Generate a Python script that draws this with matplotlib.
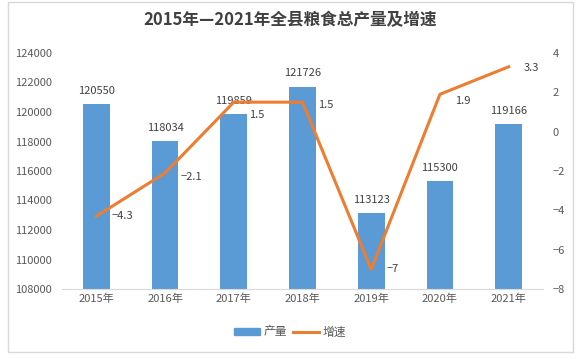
import matplotlib
matplotlib.use("Agg")
import matplotlib.pyplot as plt
from matplotlib.patches import Rectangle, Patch
from matplotlib.lines import Line2D

plt.rcParams['font.family'] = ['Noto Sans CJK SC', 'DejaVu Sans']

# 数据
years = ['2015年', '2016年', '2017年', '2018年', '2019年', '2020年', '2021年']
output = [120550, 118034, 119859, 121726, 113123, 115300, 119166]
growth = [-4.3, -2.1, 1.5, 1.5, -7, 1.9, 3.3]
growth_labels = ['−4.3', '−2.1', '1.5', '1.5', '−7', '1.9', '3.3']

# 增速标签相对数据点的偏移（单位：点）
label_dy = [0, -3, -9, -2, 0, -5, -1]

bar_color = '#5B9BD5'
line_color = '#ED7D31'
text_color = '#595959'

fig = plt.figure(figsize=(5.81, 3.61), dpi=100)
ax = fig.add_axes([62 / 581, 1 - 289 / 361, 481 / 581, 236 / 361])

x = list(range(len(years)))
ax.bar(x, output, width=0.39, color=bar_color, zorder=2)
ax.set_ylim(108000, 124000)
ax.set_yticks(range(108000, 124001, 2000))
ax.set_xlim(-0.5, len(years) - 0.5)
ax.set_xticks(x)
ax.set_xticklabels(years)
for i, v in enumerate(output):
    ax.annotate(str(v), (i, v), xytext=(0, 6), textcoords='offset points',
                ha='center', va='bottom', fontsize=8, color='#404040')

for s in ['top', 'left', 'right']:
    ax.spines[s].set_visible(False)
ax.spines['bottom'].set_color('#D9D9D9')
ax.tick_params(axis='both', length=0, labelsize=8, colors=text_color)
ax.tick_params(axis='y', pad=7)

ax2 = ax.twinx()
ax2.plot(x, growth, color=line_color, linewidth=2.2, zorder=3)
ax2.set_ylim(-8, 4)
ax2.set_yticks(range(-8, 5, 2))
ax2.set_yticklabels([str(t).replace('-', '−') for t in range(-8, 5, 2)])
for s in ['top', 'left', 'right', 'bottom']:
    ax2.spines[s].set_visible(False)
ax2.tick_params(axis='y', length=0, labelsize=8, colors=text_color, pad=7)
for i, v in enumerate(growth):
    ax2.annotate(growth_labels[i], (i, v), xytext=(11, label_dy[i]), textcoords='offset points',
                 ha='left', va='center', fontsize=8, color='#404040')

fig.text(0.5, 1 - 20 / 361, '2015年—2021年全县粮食总产量及增速', ha='center', va='center',
         fontsize=12, fontweight='bold', color='#404040')

handles = [Patch(color=bar_color), Line2D([0], [0], color=line_color, linewidth=2.2)]
fig.legend(handles, ['产量', '增速'], loc='center', bbox_to_anchor=(290 / 581, 1 - 332 / 361),
           ncol=2, frameon=False, fontsize=8.5, handlelength=2.2, handleheight=0.6,
           columnspacing=0.5, handletextpad=0.3, labelcolor=text_color)

fig.patches.append(Rectangle((8 / 581, 1 - 352 / 361), 565 / 581, 350 / 361,
                             transform=fig.transFigure, fill=False, edgecolor='#D9D9D9', linewidth=1))

fig.savefig('out.png', dpi=100)
